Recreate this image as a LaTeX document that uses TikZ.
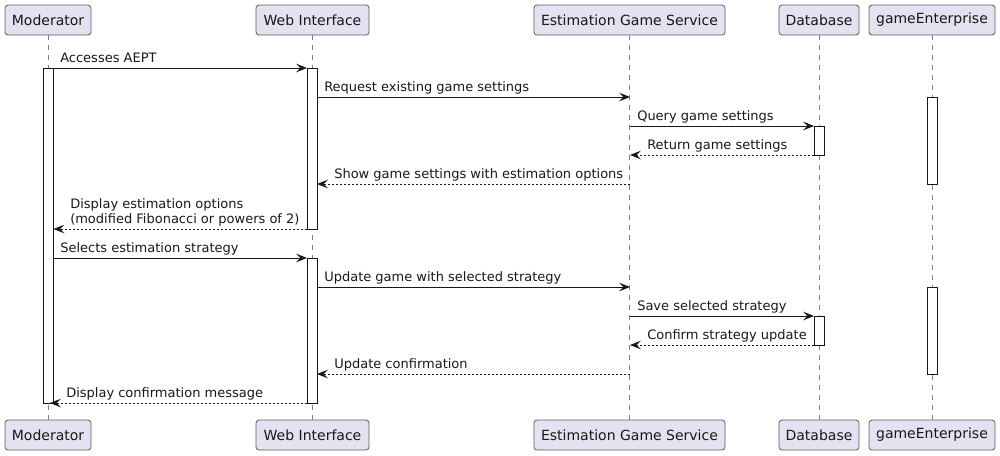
\documentclass[tikz,border=0pt]{standalone}
\usepackage{fontspec}
\setmainfont{DejaVu Sans}
\usetikzlibrary{arrows.meta}
\definecolor{pfill}{HTML}{E2E2F0}
\definecolor{pline}{HTML}{181818}
\tikzset{
  participant/.style={draw=pline!70, fill=pfill, line width=0.6pt, rounded corners=2.25pt,
    minimum height=22.5pt, inner sep=0pt, font=\fontsize{10.5}{12}\selectfont, text=pline},
  life/.style={draw=pline!55, line width=0.5pt, dash pattern=on 3.75pt off 3.75pt},
  actbox/.style={draw=pline, fill=white, line width=0.75pt},
  msg/.style={draw=pline, line width=0.75pt, -{Stealth[length=8.25pt,width=6.5pt,inset=3.3pt]}},
  ret/.style={msg, dash pattern=on 1.5pt off 1.5pt},
  lbl/.style={inner sep=0pt, anchor=base west, text=pline, font=\fontsize{9.75}{11.25}\selectfont, align=left}
}
\begin{document}
\begin{tikzpicture}[x=0.75pt,y=-0.75pt]
\useasboundingbox (0,0) rectangle (1000,455);
% participants
\node[participant, minimum width=64.5pt] (mod) at (48,20) {Moderator};
\node[participant, minimum width=84.75pt] (web) at (312.5,20) {Web Interface};
\node[participant, minimum width=143.25pt] (egs) at (629.5,20) {Estimation Game Service};
\node[participant, minimum width=60pt] (db) at (819,20) {Database};
\node[participant, minimum width=94.5pt] (ge) at (932,20) {gameEnterprise};
\node[participant, minimum width=64.5pt] (modb) at (48,435) {Moderator};
\node[participant, minimum width=84.75pt] (webb) at (312.5,435) {Web Interface};
\node[participant, minimum width=143.25pt] (egsb) at (629.5,435) {Estimation Game Service};
\node[participant, minimum width=60pt] (dbb) at (819,435) {Database};
\node[participant, minimum width=94.5pt] (geb) at (932,435) {gameEnterprise};
% lifelines
\draw[life] (mod.south) -- (modb.north);
\draw[life] (web.south) -- (webb.north);
\draw[life] (egs.south) -- (egsb.north);
\draw[life] (db.south) -- (dbb.north);
\draw[life] (ge.south) -- (geb.north);
% activations
\draw[actbox] (43.5,68) rectangle (53.5,403);
\draw[actbox] (307,68) rectangle (317,229);
\draw[actbox] (307,258) rectangle (317,403);
\draw[actbox] (814,126) rectangle (824,155);
\draw[actbox] (814,316) rectangle (824,345);
\draw[actbox] (927,97) rectangle (937,184);
\draw[actbox] (927,287) rectangle (937,374);
% message endpoints
\coordinate (m1s) at (53.5,68);  \coordinate (m1e) at (307,68);
\coordinate (m2s) at (317,97);   \coordinate (m2e) at (630,97);
\coordinate (m3s) at (630,126);  \coordinate (m3e) at (814,126);
\coordinate (m4s) at (814,155);  \coordinate (m4e) at (630,155);
\coordinate (m5s) at (630,184);  \coordinate (m5e) at (317,184);
\coordinate (m6s) at (307,229);  \coordinate (m6e) at (53.5,229);
\coordinate (m7s) at (53.5,258); \coordinate (m7e) at (307,258);
\coordinate (m8s) at (317,287);  \coordinate (m8e) at (630,287);
\coordinate (m9s) at (630,316);  \coordinate (m9e) at (814,316);
\coordinate (m10s) at (814,345); \coordinate (m10e) at (630,345);
\coordinate (m11s) at (630,374); \coordinate (m11e) at (317,374);
\coordinate (m12s) at (307,403); \coordinate (m12e) at (50,403);
% messages
\draw[msg] (m1s) -- (m1e);
\draw[msg] (m2s) -- (m2e);
\draw[msg] (m3s) -- (m3e);
\draw[ret] (m4s) -- (m4e);
\draw[ret] (m5s) -- (m5e);
\draw[ret] (m6s) -- (m6e);
\draw[msg] (m7s) -- (m7e);
\draw[msg] (m8s) -- (m8e);
\draw[msg] (m9s) -- (m9e);
\draw[ret] (m10s) -- (m10e);
\draw[ret] (m11s) -- (m11e);
\draw[ret] (m12s) -- (m12e);
% labels
\node[lbl] (t1) at (60,62.5) {Accesses AEPT};
\node[lbl] (t2) at (324,91.5) {Request existing game settings};
\node[lbl] (t3) at (637,120.5) {Query game settings};
\node[lbl] (t4) at (647,149.5) {Return game settings};
\node[lbl] (t5) at (334,178.5) {Show game settings with estimation options};
\node[lbl] (t6) at (70,223.5) {Display estimation options\\(modified Fibonacci or powers of 2)};
\node[lbl] (t7) at (60,252.5) {Selects estimation strategy};
\node[lbl] (t8) at (324,281.5) {Update game with selected strategy};
\node[lbl] (t9) at (637,310.5) {Save selected strategy};
\node[lbl] (t10) at (647,339.5) {Confirm strategy update};
\node[lbl] (t11) at (334,368.5) {Update confirmation};
\node[lbl] (t12) at (66,397.5) {Display confirmation message};
\end{tikzpicture}
\end{document}
